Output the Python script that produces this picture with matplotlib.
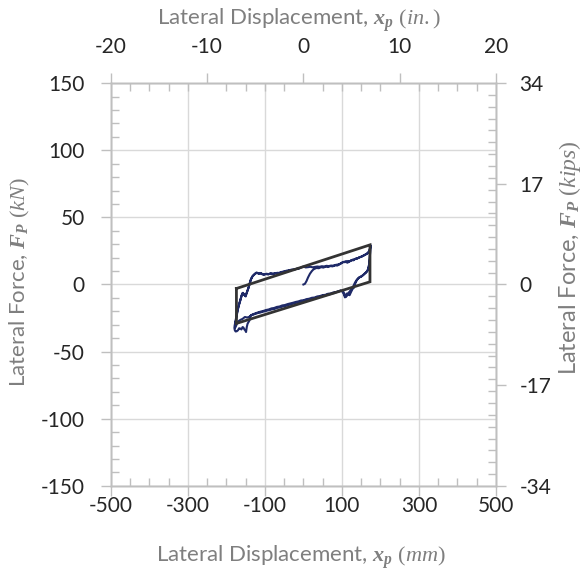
import matplotlib
matplotlib.use('Agg')
import matplotlib.pyplot as plt
from matplotlib.ticker import MultipleLocator, FixedLocator
import numpy as np

plt.rcParams['font.family'] = ['Lato', 'DejaVu Sans']
plt.rcParams['axes.unicode_minus'] = False
plt.rcParams['mathtext.fontset'] = 'custom'
plt.rcParams['mathtext.rm'] = 'Liberation Serif'
plt.rcParams['mathtext.it'] = 'Liberation Serif:italic'
plt.rcParams['mathtext.bf'] = 'Liberation Serif:bold:italic'

# measured hysteresis, (displacement mm, force kN) per branch
rise = [(0, 0), (4, 0.5), (8, 2.5), (12, 5.2), (17, 8.0), (22, 10.0), (26, 11.2), (30, 11.8)]
upper_1 = [(34, 12.3), (40, 12.1), (46, 12.9), (52, 12.6), (58, 13.3), (64, 13.0), (70, 13.7),
           (76, 13.5), (82, 14.3), (88, 14.1), (94, 15.0), (98, 15.8), (102, 16.5), (106, 16.9),
           (110, 17.2), (114, 16.2), (118, 16.8), (122, 17.6), (126, 18.1), (130, 18.0),
           (134, 18.9), (138, 19.2), (142, 19.7), (146, 20.3), (150, 20.6), (154, 21.2),
           (158, 21.8), (162, 22.4), (166, 23.1), (169, 23.8), (171, 24.9), (173, 26.4),
           (174, 28.0), (174.5, 29.3)]
unload_1 = [(174, 27.5), (173, 22.0), (172, 17.5), (170, 13.5), (167, 10.5), (163, 9.0),
            (158, 7.8), (152, 6.2), (146, 5.5), (141, 4.2), (137, 2.8), (133, 0.8),
            (129, -1.8), (125, -3.5), (121, -5.0), (117, -6.4), (113, -8.5), (110, -9.2),
            (107, -8.0), (104, -5.5), (100, -4.8), (96, -4.6)]
lower_1 = [(92, -5.3), (86, -5.7), (80, -6.4), (74, -6.7), (68, -7.4), (62, -7.6), (56, -8.3),
           (50, -8.5), (44, -9.2), (38, -9.4), (32, -10.1), (26, -10.3), (20, -11.0),
           (14, -11.2), (8, -11.8), (2, -12.1), (-4, -12.7), (-10, -12.9), (-16, -13.5),
           (-22, -13.9), (-28, -14.4), (-34, -15.0), (-40, -15.3), (-46, -16.0), (-52, -16.2),
           (-58, -16.8), (-64, -17.2), (-70, -17.6), (-76, -18.3), (-82, -18.5), (-88, -19.1),
           (-94, -19.4), (-100, -20.0), (-106, -20.3), (-112, -20.9), (-118, -21.2),
           (-124, -21.8), (-130, -22.4), (-136, -22.9), (-140, -24.0), (-146, -24.6),
           (-152, -24.2), (-158, -25.6), (-164, -26.4), (-169, -27.4), (-173, -29.5),
           (-176, -31.5), (-178, -32.5)]
reload_1 = [(-177.5, -29.5), (-176, -26.5), (-174, -23.5), (-171, -19.3), (-168, -15.5),
            (-164, -11.9), (-161, -8.5), (-158, -6.4), (-154, -7.6), (-150, -8.9),
            (-146, -5.2), (-142, -2.0), (-139, 1.4), (-136, 4.2), (-132, 6.2), (-127, 7.6)]
upper_2 = [(-122, 8.9), (-117, 8.2), (-112, 8.6), (-107, 7.6), (-102, 7.3), (-96, 8.0),
           (-90, 7.7), (-84, 8.1), (-78, 7.9), (-72, 8.5), (-66, 8.3), (-60, 8.9), (-54, 9.3),
           (-48, 9.8), (-42, 10.0), (-36, 10.6), (-30, 10.9), (-24, 11.1), (-18, 11.6),
           (-12, 11.8), (-6, 12.6), (0, 13.4), (6, 12.7), (12, 12.9), (18, 13.2), (24, 12.8),
           (30, 13.1), (36, 13.4), (42, 13.2), (48, 13.6), (54, 13.4), (60, 13.9), (66, 13.7),
           (72, 14.1), (78, 14.0), (84, 14.6), (90, 14.9), (96, 15.5), (100, 16.2),
           (104, 16.8), (108, 16.6), (112, 17.1), (116, 17.5), (120, 17.3), (124, 17.9),
           (128, 18.5), (132, 18.7), (136, 19.3), (140, 19.4), (144, 20.0), (148, 20.5),
           (152, 20.9), (156, 21.5), (160, 22.1), (164, 22.8), (167, 23.4), (170, 24.5),
           (172, 25.8), (173.5, 27.5), (174, 29.0)]
unload_2 = [(174, 28.0), (173.5, 24.0), (172.5, 19.5), (171, 15.5), (169, 12.0), (166, 10.0),
            (162, 8.8), (156, 7.2), (150, 5.9), (144, 5.0), (139, 3.3), (135, 1.0),
            (131, -2.5), (128, -3.2), (124, -5.5), (120, -8.0), (116, -7.0), (112, -6.8),
            (110, -9.0), (108, -9.6), (105, -7.2), (102, -5.4), (97, -4.6)]
lower_2 = [(92, -4.9), (85, -5.6), (78, -5.9), (71, -6.7), (64, -6.9), (57, -7.7), (50, -7.9),
           (43, -8.6), (36, -8.9), (29, -9.7), (22, -9.9), (15, -10.6), (8, -10.9),
           (1, -11.7), (-6, -11.9), (-13, -12.6), (-20, -13.0), (-27, -13.6), (-34, -14.1),
           (-41, -14.6), (-48, -15.3), (-55, -15.6), (-62, -16.4), (-69, -16.7), (-76, -17.5),
           (-83, -17.8), (-90, -18.6), (-97, -19.0), (-104, -19.7), (-111, -20.2),
           (-118, -20.8), (-125, -21.5), (-132, -22.3), (-137, -23.2), (-140, -26.7)]
bottom_2 = [(-143, -28.2), (-145, -29.2), (-147, -31.5), (-149, -35.4), (-151, -34.2),
            (-153, -33.6), (-156, -32.0), (-158, -31.7), (-161, -33.5), (-164, -32.8),
            (-167, -32.6), (-170, -34.1), (-173, -34.8), (-176, -35.0), (-178, -34.2),
            (-179, -32.9)]
reload_2 = [(-178.5, -30.5), (-177, -28.0), (-175, -26.7), (-173, -23.0), (-171, -19.3),
            (-168, -16.0), (-165, -12.8), (-162, -10.0), (-159, -7.0), (-157, -6.2),
            (-154, -7.4), (-151, -8.6), (-147, -6.0), (-143, -2.8), (-140, 0.2), (-137, 3.2),
            (-133, 5.8), (-129, 7.2), (-125, 8.2), (-120, 8.7)]
upper_3 = [(-115, 8.0), (-110, 8.3), (-104, 7.5), (-98, 7.8), (-92, 7.5), (-86, 8.3),
           (-80, 8.0), (-74, 8.2), (-68, 8.7), (-62, 8.6), (-56, 9.4), (-50, 9.6), (-44, 10.3),
           (-38, 10.4), (-32, 11.0), (-26, 11.0), (-20, 11.5), (-14, 12.0)]

# bilinear model outline (mm, kN)
model_x = [-174, 173, 173, -174, -174]
model_f = [-3.0, 29.5, 2.0, -29.0, -3.0]

branches = [rise, upper_1, unload_1, lower_1, reload_1, upper_2, unload_2, lower_2,
            bottom_2, reload_2, upper_3]
test = np.array([p for b in branches for p in b])

grey = '#bfbfbf'
title_col = '#7f7f7f'
tick_col = '#262626'

fig = plt.figure(figsize=(5.84, 5.73), dpi=100)
ax = fig.add_axes([0.190, 0.152, 0.659, 0.703])

ax.plot(test[:, 0], test[:, 1], color='#1f2a68', lw=1.5, zorder=2)
ax.plot(model_x, model_f, color='#333333', lw=2.0, zorder=3, solid_joinstyle='miter')

ax.set_xlim(-500, 500)
ax.set_ylim(-150, 150)
ax.xaxis.set_major_locator(FixedLocator(np.arange(-500, 501, 200)))
ax.xaxis.set_minor_locator(MultipleLocator(50))
ax.yaxis.set_major_locator(MultipleLocator(50))
ax.yaxis.set_minor_locator(MultipleLocator(10))
ax.grid(which='major', color='#d9d9d9', lw=1.0)

# inch scale on top, kip scale on right
axt = ax.twiny()
axt.set_xlim(-20, 20)
axt.xaxis.set_major_locator(MultipleLocator(10))
axt.xaxis.set_minor_locator(MultipleLocator(2))

axr = ax.twinx()
axr.set_ylim(-34, 34)
axr.yaxis.set_major_locator(FixedLocator([-34, -17, 0, 17, 34]))
axr.yaxis.set_minor_locator(MultipleLocator(2))

for a in (ax, axt, axr):
    for s in a.spines.values():
        s.set_color(grey)
        s.set_linewidth(1.0)
    a.tick_params(which='major', direction='out', length=7, width=1, color=grey,
                  labelsize=15, labelcolor=tick_col)
    a.tick_params(which='minor', direction='in', length=6, width=1, color=grey)

ax.tick_params(axis='x', which='both', top=False)
ax.tick_params(axis='x', which='major', pad=0)
ax.tick_params(axis='y', which='both', right=False)
ax.tick_params(axis='y', which='major', pad=12)
axt.tick_params(axis='x', which='major', pad=12)
axr.tick_params(axis='y', which='major', pad=10)

fig.text(0.515, 1 - 557 / 573, r'Lateral Displacement, $\mathbf{x}_{\mathbf{p}}$ $(\mathit{mm})$',
         ha='center', va='center', fontsize=16, color=title_col)
fig.text(0.512, 1 - 20 / 573, r'Lateral Displacement, $\mathbf{x}_{\mathbf{p}}$ $(\mathit{in.})$',
         ha='center', va='center', fontsize=16, color=title_col)
fig.text(20 / 584, 1 - 282 / 573, r'Lateral Force, $\mathbf{F}_{\mathbf{P}}$ $(\mathit{kN})$',
         ha='center', va='center', rotation=90, fontsize=16, color=title_col)
fig.text(570 / 584, 1 - 258 / 573, r'Lateral Force, $\mathbf{F}_{\mathbf{P}}$ $(\mathit{kips})$',
         ha='center', va='center', rotation=90, fontsize=17, color=title_col)

fig.savefig('out.png', dpi=100)
